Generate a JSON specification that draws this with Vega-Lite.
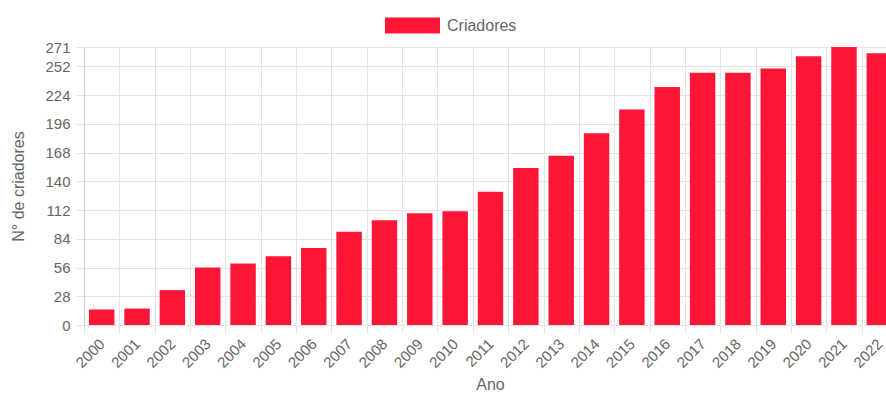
{
  "$schema": "https://vega.github.io/schema/vega-lite/v6.json",
  "autosize": {"type": "none"},
  "width": 802,
  "height": 278,
  "padding": {"left": 84, "top": 47, "right": 0, "bottom": 69},
  "background": "white",
  "config": {"view": {"stroke": null}, "font": "Liberation Sans"},
  "data": {
    "values": [
      {"ano": "2000", "criadores": 15},
      {"ano": "2001", "criadores": 16},
      {"ano": "2002", "criadores": 34},
      {"ano": "2003", "criadores": 56},
      {"ano": "2004", "criadores": 60},
      {"ano": "2005", "criadores": 67},
      {"ano": "2006", "criadores": 75},
      {"ano": "2007", "criadores": 91},
      {"ano": "2008", "criadores": 102},
      {"ano": "2009", "criadores": 109},
      {"ano": "2010", "criadores": 111},
      {"ano": "2011", "criadores": 130},
      {"ano": "2012", "criadores": 153},
      {"ano": "2013", "criadores": 165},
      {"ano": "2014", "criadores": 187},
      {"ano": "2015", "criadores": 210},
      {"ano": "2016", "criadores": 232},
      {"ano": "2017", "criadores": 246},
      {"ano": "2018", "criadores": 246},
      {"ano": "2019", "criadores": 250},
      {"ano": "2020", "criadores": 262},
      {"ano": "2021", "criadores": 271},
      {"ano": "2022", "criadores": 265}
    ]
  },
  "mark": {"type": "bar", "width": {"band": 0.72}},
  "encoding": {
    "x": {
      "field": "ano",
      "type": "ordinal",
      "scale": {"range": [0, 813], "paddingInner": 0, "paddingOuter": 0},
      "axis": {
        "title": "Ano",
        "labelAngle": -45,
        "labelAlign": "right",
        "labelBaseline": "middle",
        "tickBand": "extent",
        "grid": true,
        "gridColor": "#e4e4e4",
        "tickColor": "#e4e4e4",
        "tickSize": 8,
        "domain": false,
        "labelColor": "#666",
        "labelFontSize": 15,
        "labelPadding": 8,
        "titleColor": "#666",
        "titleFontSize": 16,
        "titleFontWeight": "normal",
        "titleX": 406,
        "titlePadding": 6
      }
    },
    "y": {
      "field": "criadores",
      "type": "quantitative",
      "scale": {"domain": [0, 271], "nice": false},
      "axis": {
        "title": "N° de criadores",
        "values": [0, 28, 56, 84, 112, 140, 168, 196, 224, 252, 271],
        "grid": true,
        "gridColor": "#e4e4e4",
        "tickColor": "#e4e4e4",
        "tickSize": 8,
        "domainColor": "#cfcfcf",
        "labelColor": "#666",
        "labelFontSize": 15,
        "labelPadding": 6,
        "titleColor": "#666",
        "titleFontSize": 16,
        "titleFontWeight": "normal",
        "titlePadding": 18
      }
    },
    "color": {
      "datum": "Criadores",
      "type": "nominal",
      "scale": {"range": ["#fe1636"]},
      "legend": {
        "orient": "none",
        "legendX": 301,
        "legendY": -49,
        "title": null,
        "symbolType": "M-1,-0.29H1V0.29H-1Z",
        "symbolSize": 3025,
        "symbolStrokeWidth": 0,
        "labelFontSize": 16,
        "labelColor": "#666",
        "labelOffset": 7,
        "padding": 0,
        "symbolOffset": 0
      }
    }
  }
}
